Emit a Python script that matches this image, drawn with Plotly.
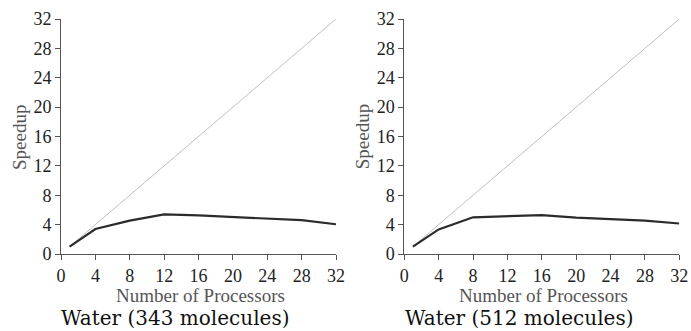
import plotly.graph_objects as go

procs = [1, 4, 8, 12, 16, 20, 24, 28, 32]
speedup_343 = [1.0, 3.4, 4.55, 5.4, 5.25, 5.0, 4.85, 4.6, 4.05]
speedup_512 = [1.0, 3.35, 5.0, 5.15, 5.3, 4.95, 4.8, 4.55, 4.15]
ideal_x = [1, 32]
ideal_y = [1, 32]
tick_vals = [0, 4, 8, 12, 16, 20, 24, 28, 32]
titles = ["Water (343 molecules)", "Water (512 molecules)"]

W, H = 691, 331
fig = go.Figure()

doms = [(61 / W, 336 / W), (404.3 / W, 679.3 / W)]
ydom = ((331 - 254) / H, (331 - 19) / H)
series = [speedup_343, speedup_512]

for i, (dom, s) in enumerate(zip(doms, series)):
    xa = "x" if i == 0 else "x2"
    ya = "y" if i == 0 else "y2"
    fig.add_trace(go.Scatter(x=ideal_x, y=ideal_y, mode="lines",
                             line=dict(color="#c0c0c0", width=1),
                             xaxis=xa, yaxis=ya, showlegend=False, hoverinfo="skip"))
    fig.add_trace(go.Scatter(x=procs, y=s, mode="lines",
                             line=dict(color="#2b2b2b", width=2.2),
                             xaxis=xa, yaxis=ya, showlegend=False))
    axcommon = dict(range=[0, 32], tickvals=tick_vals, showgrid=False, zeroline=False,
                    showline=True, linecolor="#555555", linewidth=1, automargin=False,
                    ticks="outside", ticklen=5, tickcolor="#555555", tickwidth=1,
                    tickfont=dict(family="Liberation Serif", size=18, color="#222222"),
                    fixedrange=True)
    xkey = "xaxis" if i == 0 else "xaxis2"
    ykey = "yaxis" if i == 0 else "yaxis2"
    fig.update_layout(**{
        xkey: dict(domain=list(dom), anchor=ya, ticklabelstandoff=0, **axcommon),
        ykey: dict(domain=list(ydom), anchor=xa, ticklabelstandoff=0, **axcommon),
    })
    cx = (dom[0] + dom[1]) / 2
    fig.add_annotation(text="Number of Processors", xref="paper", yref="paper",
                       x=cx + 2 / W, y=(331 - 295) / H, showarrow=False,
                       font=dict(family="Liberation Serif", size=19, color="#555555"),
                       xanchor="center", yanchor="middle")
    fig.add_annotation(text="Speedup", xref="paper", yref="paper",
                       x=dom[0] - 42 / W, y=(331 - 137) / H, showarrow=False, textangle=-90,
                       font=dict(family="Liberation Serif", size=19, color="#555555"),
                       xanchor="center", yanchor="middle")
    fig.add_annotation(text=titles[i], xref="paper", yref="paper",
                       x=dom[0] + 115 / W, y=(331 - 318) / H, showarrow=False,
                       font=dict(family="DejaVu Serif", size=20, color="#111111"),
                       xanchor="center", yanchor="middle")

fig.update_layout(width=W, height=H, margin=dict(l=0, r=0, t=0, b=0),
                  paper_bgcolor="white", plot_bgcolor="white")
fig.write_html("out.html", config={"displayModeBar": False},
               post_script="document.body.style.margin='0';document.body.style.overflow='hidden';")
